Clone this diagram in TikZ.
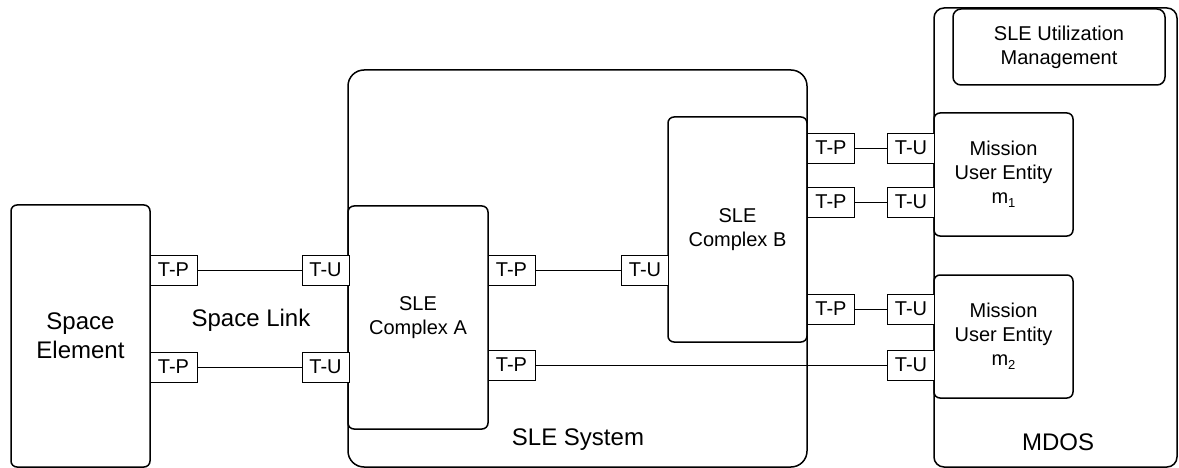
\documentclass[tikz,border=0pt]{standalone}
\usepackage{fontspec}
\setmainfont{Liberation Sans}
\newcommand{\lowsub}[1]{\raisebox{-4.5pt}{\fontsize{13}{13}\selectfont #1}}
\begin{document}
\begin{tikzpicture}[x=1pt,y=-1pt,
  bigbox/.style={draw, line width=1.5pt, rounded corners=#1, inner sep=0pt, align=center,
    font=\fontsize{20}{24}\selectfont},
  bigbox/.default=5pt,
  port/.style={draw, line width=0.8pt, minimum width=47pt, minimum height=30pt, inner sep=0pt,
    font=\fontsize{20}{24}\selectfont, fill=white},
  link/.style={line width=0.8pt},
  biglabel/.style={font=\fontsize{24}{28.8}\selectfont, align=center}
]
\useasboundingbox (0,0) rectangle (1179,468);

% outer containers
\node[bigbox=6pt, minimum width=139pt, minimum height=262pt, biglabel] (se) at (80.5,336) {Space\\Element};
\node[bigbox=16pt, minimum width=459pt, minimum height=397pt] (sys) at (577.5,268.5) {};
\node[bigbox=10pt, minimum width=243pt, minimum height=459pt] (mdos) at (1055.5,237.5) {};

% inner boxes
\node[bigbox=6pt, minimum width=140pt, minimum height=223pt] (ca) at (418,317.5) {SLE\\Complex A};
\node[bigbox=6pt, minimum width=139pt, minimum height=225pt] (cb) at (737.5,229.5) {SLE\\Complex B};
\node[bigbox=8pt, minimum width=212pt, minimum height=76pt] (um) at (1059,47) {SLE Utilization\\Management};
\node[bigbox=6pt, minimum width=139pt, minimum height=123pt] (m1) at (1003.5,174.5) {Mission\\User Entity\\m\lowsub{1}};
\node[bigbox=6pt, minimum width=139pt, minimum height=123pt] (m2) at (1003.5,336.5) {Mission\\User Entity\\m\lowsub{2}};

% labels
\node[biglabel] (sl) at (251,320) {Space Link};
\node[biglabel] (sysl) at (578,440) {SLE System};
\node[biglabel] (mdosl) at (1058,442) {MDOS};

% ports
\node[port] (sep1) at (173.5,270) {T-P};
\node[port] (sep2) at (173.5,367) {T-P};
\node[port] (atu1) at (325.5,270) {T-U};
\node[port] (atu2) at (325.5,367) {T-U};
\node[port] (atp1) at (511.5,270) {T-P};
\node[port] (atp2) at (511.5,365) {T-P};
\node[port] (btu) at (645,270) {T-U};
\node[port] (btp1) at (831,148) {T-P};
\node[port] (btp2) at (831,202) {T-P};
\node[port] (btp3) at (831,309) {T-P};
\node[port] (mtu1) at (911,148) {T-U};
\node[port] (mtu2) at (911,202) {T-U};
\node[port] (mtu3) at (911,309) {T-U};
\node[port] (mtu4) at (911,365) {T-U};

% connectors
\draw[link] (sep1) -- (atu1);
\draw[link] (sep2) -- (atu2);
\draw[link] (atp1) -- (btu);
\draw[link] (atp2) -- (mtu4);
\draw[link] (btp1) -- (mtu1);
\draw[link] (btp2) -- (mtu2);
\draw[link] (btp3) -- (mtu3);
\end{tikzpicture}
\end{document}
